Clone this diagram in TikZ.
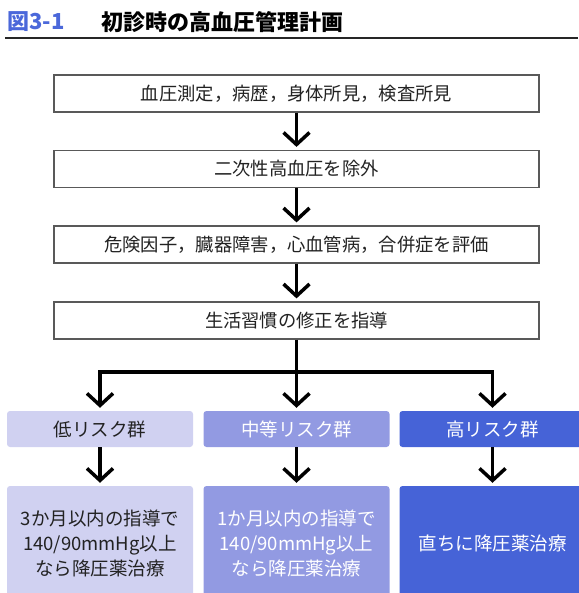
\documentclass[tikz,border=0pt]{standalone}
\usepackage{fontspec}
\setmainfont{Noto Sans CJK JP}
\usetikzlibrary{arrows.meta}
\definecolor{lowc}{RGB}{208,209,241}
\definecolor{midc}{RGB}{146,154,226}
\definecolor{highc}{RGB}{70,99,215}
\definecolor{titleblue}{RGB}{75,104,218}
\definecolor{txt}{RGB}{34,34,34}
\begin{document}
\begin{tikzpicture}[x=1pt,y=-1pt,
  stepbox/.style={draw=black!65, line width=1.2pt, fill=white, minimum width=485pt, minimum height=37pt, inner sep=0pt, text=txt, font=\fontsize{18.3}{22}\selectfont},
  riskbox/.style={rounded corners=3pt, minimum width=186pt, minimum height=36pt, inner sep=0pt, font=\fontsize{18.5}{22}\selectfont},
  resbox/.style={rounded corners=3pt, minimum width=186pt, minimum height=114pt, inner sep=0pt, align=center, font=\fontsize{18.5}{25}\selectfont},
  arr/.style={line width=3.5pt, -{Straight Barb[length=12pt,width=26pt]}, shorten >=3pt},
  lin/.style={line width=3.5pt}]
\useasboundingbox (0,0) rectangle (578,593);
% title
\node[anchor=west, inner sep=0pt, text=titleblue, font=\fontsize{22}{24}\selectfont\bfseries] (fig) at (7,22) {図3-1};
\node[anchor=west, inner sep=0pt, text=black, font=\fontsize{22}{24}\selectfont\bfseries] (ttl) at (101,22) {初診時の高血圧管理計画};
\coordinate (ul) at (5,38);
\coordinate (ur) at (578,38);
\draw[line width=1.4pt, black!85] (ul) -- (ur);
% steps
\node[stepbox] (b1) at (296.5,93.5) {血圧測定，病歴，身体所見，検査所見};
\node[stepbox] (b2) at (296.5,169) {二次性高血圧を除外};
\node[stepbox] (b3) at (296.5,244.5) {危険因子，臓器障害，心血管病，合併症を評価};
\node[stepbox] (b4) at (296.5,320.5) {生活習慣の修正を指導};
\draw[arr] (b1.south) -- (b2.north);
\draw[arr] (b2.south) -- (b3.north);
\draw[arr] (b3.south) -- (b4.north);
% risk groups
\node[riskbox, fill=lowc, text=txt] (low) at (100,429) {低リスク群};
\node[riskbox, fill=midc, text=white] (mid) at (296.5,429) {中等リスク群};
\node[riskbox, fill=highc, text=white] (high) at (492.5,429) {高リスク群};
\coordinate (split) at (296.5,372);
\draw[arr] (b4.south) -- (mid.north);
\draw[arr] (split) -| (low.north);
\draw[arr] (split) -| (high.north);
% results
\node[resbox, fill=lowc, text=txt] (rlow) at (100,543) {3か月以内の指導で\\140/90mmHg以上\\なら降圧薬治療};
\node[resbox, fill=midc, text=white] (rmid) at (296.5,543) {1か月以内の指導で\\140/90mmHg以上\\なら降圧薬治療};
\node[resbox, fill=highc, text=white] (rhigh) at (492.5,543) {直ちに降圧薬治療};
\draw[arr] (low.south) -- (rlow.north);
\draw[arr] (mid.south) -- (rmid.north);
\draw[arr] (high.south) -- (rhigh.north);
\end{tikzpicture}
\end{document}
